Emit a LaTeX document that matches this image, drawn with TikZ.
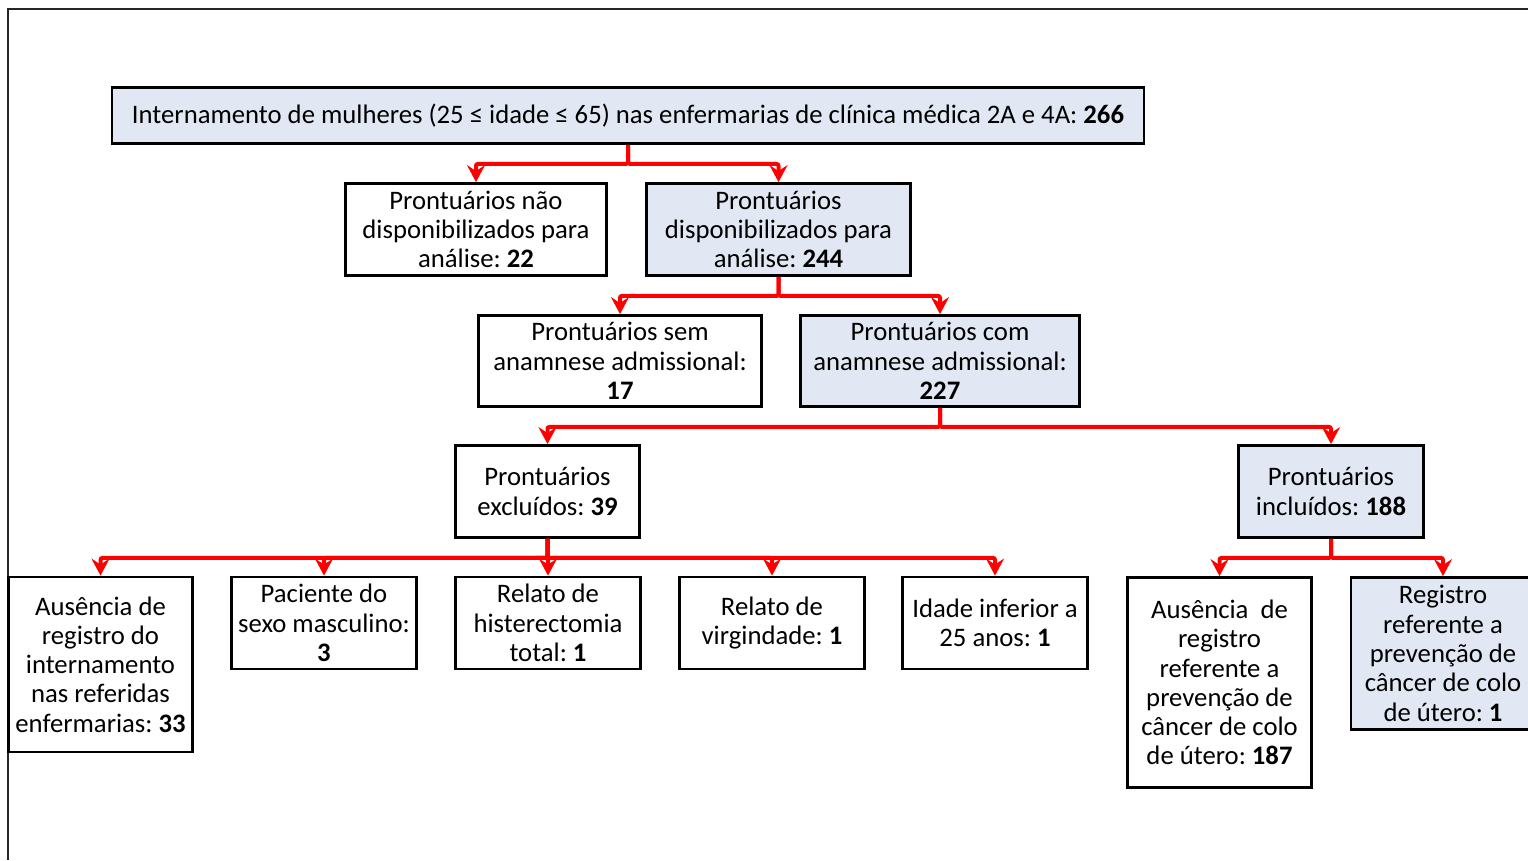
\documentclass[tikz,border=0pt]{standalone}
\usepackage{fontspec}
\setmainfont{Carlito}
\usetikzlibrary{arrows.meta}
\definecolor{boxblue}{HTML}{E1E8F3}
\definecolor{linkred}{HTML}{FF0000}
\tikzset{
  box/.style={draw=black, line width=2.8pt, fill=white, align=center, inner sep=0pt,
    font=\fontsize{26.7}{29.3}\selectfont\frenchspacing},
  bluebox/.style={box, fill=boxblue},
  link/.style={draw=linkred, line width=4pt, rounded corners=2pt,
    -{Stealth[length=17pt, width=18pt, inset=6pt]}},
}
\begin{document}
\frenchspacing
\begin{tikzpicture}[x=1pt, y=-1pt]
\useasboundingbox (0,0) rectangle (1528,860);
\draw[line width=2pt, draw=black!85] (1528,9) -- (8,9) -- (8,860);

\node[bluebox, minimum width=1032, minimum height=56] (top) at (628,115.5)
  {Internamento de mulheres (25 ≤ idade ≤ 65) nas enfermarias de clínica médica 2A e 4A: \textbf{266}};

\node[box, minimum width=261, minimum height=92] (nd) at (476,229.5)
  {Prontuários não\\disponibilizados para\\análise: \textbf{22}};
\node[bluebox, minimum width=264, minimum height=92] (d) at (778.5,229.5)
  {Prontuários\\disponibilizados para\\análise: \textbf{244}};

\node[box, minimum width=283, minimum height=91] (sem) at (620,361)
  {Prontuários sem\\anamnese admissional:\\\textbf{17}};
\node[bluebox, minimum width=279, minimum height=91] (com) at (940,361)
  {Prontuários com\\anamnese admissional:\\\textbf{227}};

\node[box, minimum width=184, minimum height=92] (exc) at (547.5,491.5)
  {Prontuários\\excluídos: \textbf{39}};
\node[bluebox, minimum width=185, minimum height=92] (inc) at (1331,491.5)
  {Prontuários\\incluídos: \textbf{188}};

\node[box, minimum width=184, minimum height=175] (e1) at (100.5,664.5)
  {Ausência de\\registro do\\internamento\\nas referidas\\enfermarias: \textbf{33}};
\node[box, minimum width=185, minimum height=92] (e2) at (324,623)
  {Paciente do\\sexo masculino:\\\textbf{3}};
\node[box, minimum width=185, minimum height=92] (e3) at (548,623)
  {Relato de\\histerectomia\\total: \textbf{1}};
\node[box, minimum width=185, minimum height=92] (e4) at (772,623)
  {Relato de\\virgindade: \textbf{1}};
\node[box, minimum width=185, minimum height=92] (e5) at (995,623)
  {Idade inferior a\\25 anos: \textbf{1}};

\node[box, minimum width=184, minimum height=210] (i1) at (1219.5,682.5)
  {Ausência\ \ de\\registro\\referente a\\prevenção de\\câncer de colo\\de útero: \textbf{187}};
\node[bluebox, minimum width=184, minimum height=152] (i2) at (1443,653.5)
  {Registro\\referente a\\prevenção de\\câncer de colo\\de útero: \textbf{1}};

\draw[link] (top.south) -- ++(0,19) -| (nd.north);
\draw[link] (top.south) -- ++(0,19) -| (d.north);
\draw[link] (d.south) -- ++(0,19) -| (sem.north);
\draw[link] (d.south) -- ++(0,19) -| (com.north);
\draw[link] (com.south) -- ++(0,19) -| (exc.north);
\draw[link] (com.south) -- ++(0,19) -| (inc.north);
\foreach \c in {e1,e2,e3,e4,e5}
  \draw[link] (exc.south) -- ++(0,19) -| (\c.north);
\draw[link] (inc.south) -- ++(0,19) -| (i1.north);
\draw[link] (inc.south) -- ++(0,19) -| (i2.north);
\end{tikzpicture}
\end{document}
